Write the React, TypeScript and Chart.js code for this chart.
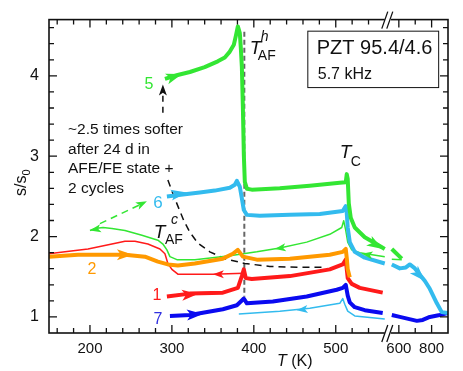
import React, { useEffect, useRef } from 'react';
import { Chart, registerables } from 'chart.js';

Chart.register(...registerables);

type P = [number, number];

// ---------- data: [T (K), s/s0] ----------
// below the axis break (T <= 560 K)
const curve5Heat: P[] = [[291.5,3.963],[307,4.011],[322,4.048],[340,4.108],[356,4.181],[364.6,4.229],[370.7,4.302],[375.6,4.387],[378,4.495],[380.5,4.616],[382.9,4.532],[384.1,4.35],[385.4,4.108],[386.6,3.624],[387.8,3.019],[389,2.681],[391.5,2.596],[397.5,2.584],[431.7,2.6],[468.3,2.632],[504.9,2.669],[512.2,2.675],[513.4,2.777],[514.6,2.717],[515.9,2.415],[518.3,2.234],[523.2,2.113],[535.4,1.992],[547.6,1.919],[559.8,1.846]];
const curve5Cool: P[] = [[559.8,1.75],[529.3,1.798],[519.5,1.834],[514.6,1.931],[512.2,2.076],[509.7,2.197],[507.3,2.113],[492.7,2.028],[464.6,1.931],[431.7,1.858],[403.7,1.81],[370.7,1.762],[328,1.713],[306.1,1.713],[297.6,1.75],[293.9,1.834],[289,1.907],[282.9,1.955],[263.4,2.016],[242.7,2.076],[226.8,2.101],[215.9,2.113],[206.1,2.101],[200,2.076]];
const curve6Heat: P[] = [[293.9,2.5],[313.4,2.524],[334.1,2.548],[352.4,2.572],[370.7,2.608],[376.8,2.645],[379.3,2.693],[382.9,2.62],[385.4,2.475],[387.8,2.33],[391.5,2.27],[407.3,2.258],[443.9,2.27],[480.5,2.282],[508.5,2.318],[512.2,2.379],[513.4,2.294],[514.6,2.113],[517.1,1.931],[523.2,1.81],[535.4,1.737],[559.8,1.665]];
const curve6Cool: P[] = [[559.8,0.975],[523.2,1.012],[514.6,1.072],[511,1.157],[508.5,1.229],[504.9,1.169],[468.3,1.108],[431.7,1.072],[381.7,1.036]];
const curve7Heat: P[] = [[297.6,1.012],[322,1.024],[362.2,1.096],[379.3,1.145],[385.4,1.205],[387.8,1.229],[391.5,1.169],[423.2,1.193],[464.6,1.254],[501.2,1.338],[508.5,1.362],[512.2,1.399],[514.6,1.266],[517.1,1.181],[523.2,1.121],[535.4,1.084],[557.3,1.048]];
const curve1Heat: P[] = [[293.9,1.254],[322,1.29],[362.2,1.302],[380.5,1.362],[385.4,1.508],[387.8,1.592],[390.2,1.483],[397.5,1.471],[444,1.508],[492.7,1.592],[508.5,1.653],[512.2,1.713],[514.6,1.483],[519.5,1.411],[529.3,1.362],[557.3,1.302]];
const curve1Cool: P[] = [[387.8,1.544],[350,1.532],[328,1.532],[307.3,1.532],[300,1.592],[295.1,1.665],[291.5,1.786],[285.4,1.846],[270.7,1.907],[254.9,1.943],[242.7,1.943],[226.8,1.907],[197.6,1.846],[169.5,1.81],[150,1.786]];
const curve2Heat: P[] = [[150,1.75],[185.4,1.774],[242.7,1.774],[267.1,1.75],[282.9,1.689],[295.1,1.653],[307.3,1.641],[328,1.665],[362.2,1.725],[374.4,1.786],[380.5,1.834],[386.6,1.75],[403.7,1.713],[444,1.725],[492.7,1.774],[508.5,1.81],[512.2,1.846],[513.4,1.737],[514.6,1.592],[517.1,1.495]];
// above the axis break
const curve5HeatHigh: P[] = [[557,1.846],[618,1.725]];
const curve5CoolHigh: P[] = [[618,1.713],[557,1.719]];
const curve6HeatHigh: P[] = [[557,1.653],[606,1.604],[643,1.616],[667,1.653],[698,1.604],[759,1.447],[789,1.35],[832,1.169],[862,1.06],[899,1.048]];
const curve7HeatHigh: P[] = [[557,1.024],[606,1.0],[710,0.951],[746,0.963],[789,1.0],[850,1.024],[899,1.048]];
// guides
const tafCoolLine: P[] = [[295.1,2.705],[301.2,2.536],[307.3,2.379],[314.6,2.197],[322,2.052],[331.7,1.919],[346.3,1.81],[364.6,1.725],[389,1.665],[419.5,1.629],[456.1,1.617],[486.6,1.617]];
const tafHeatLine: P[] = [[388.4,4.55],[388.4,1.25]];
const softerArrow: P[] = [[289,3.54],[289,3.85]];
const greenDashArrow: P[] = [[212.2,2.161],[266,2.42]];

// arrowheads: curve key, tail, tip, high-T segment?
const ARROWS: { k: string; from: P; to: P; hi?: boolean }[] = [
  { k: 'g', from: [297.6,3.975], to: [312.2,4.023] },
  { k: 'c', from: [300,2.518], to: [318.3,2.548] },
  { k: 'o', from: [231.7,1.774], to: [252.4,1.774] },
  { k: 'r', from: [313.4,1.27], to: [331.7,1.284] },
  { k: 'b', from: [318.3,1.024], to: [337.8,1.036] },
  { k: 'rt', from: [364.6,1.532], to: [350,1.532] },
  { k: 'gt', from: [441.5,1.871], to: [425.6,1.846] },
  { k: 'ct', from: [468.3,1.102], to: [452.4,1.084] },
  { k: 'g', from: [539,1.955], to: [557.3,1.846] },
  { k: 'gt', from: [547.6,1.762], to: [531.7,1.786] },
  { k: 'c', from: [685,1.604], to: [759,1.447], hi: true },
  { k: 'gt', from: [212.2,2.101], to: [200,2.076] },
  { k: 'gt', from: [257.3,2.379], to: [269.5,2.439] },
  { k: 'kt', from: [289,3.745], to: [289,3.891] },
];

const X_MAJOR_LOW = [200, 300, 400, 500];
const X_MINOR_LOW = [160, 180, 220, 240, 260, 280, 320, 340, 360, 380, 420, 440, 460, 480, 520, 540];
const X_MAJOR_HIGH = [600, 800];
const X_MINOR_HIGH = [700];
const Y_MAJOR = [1, 2, 3, 4];
const Y_MINOR = [1.2, 1.4, 1.6, 1.8, 2.2, 2.4, 2.6, 2.8, 3.2, 3.4, 3.6, 3.8, 4.2, 4.4, 4.6];

// axis break mapping
const lowX = (T: number) => T;
const highX = (T: number) => 577 + (T - 600) * 0.2;
const BREAK_U = 563.5;

const FONT = '"Liberation Sans", Arial, Helvetica, sans-serif';
const COL: Record<string, string> = {
  g: '#33e633', c: '#33bbee', o: '#ff9900', r: '#ff1a1a', b: '#0a0af0', k: '#111111',
};

function ds(pts: P[], hi: boolean, color: string, width: number, order: number, dash: number[] = []) {
  return {
    data: pts.map(([T, s]) => ({ x: hi ? highX(T) : lowX(T), y: s })),
    borderColor: color,
    backgroundColor: color,
    borderWidth: width,
    borderDash: dash,
    pointRadius: 0,
    tension: 0,
    fill: false,
    order,
    borderCapStyle: 'butt' as const,
    borderJoinStyle: 'round' as const,
  };
}

const decor = {
  id: 'decor',
  afterDatasetsDraw(chart: any) {
    const { ctx, scales } = chart;
    const x = scales.x, y = scales.y;
    ctx.save();
    for (const a of ARROWS) {
      const m = a.hi ? highX : lowX;
      const x1 = x.getPixelForValue(m(a.from[0])), y1 = y.getPixelForValue(a.from[1]);
      const x2 = x.getPixelForValue(m(a.to[0])), y2 = y.getPixelForValue(a.to[1]);
      const ang = Math.atan2(y2 - y1, x2 - x1);
      const thin = a.k.length > 1;
      const L = thin ? 11 : 16, W = thin ? 4 : 5.5;
      ctx.fillStyle = COL[a.k[0]];
      ctx.beginPath();
      ctx.moveTo(x2, y2);
      ctx.lineTo(x2 - L * Math.cos(ang) + W * Math.sin(ang), y2 - L * Math.sin(ang) - W * Math.cos(ang));
      ctx.lineTo(x2 - 0.75 * L * Math.cos(ang), y2 - 0.75 * L * Math.sin(ang));
      ctx.lineTo(x2 - L * Math.cos(ang) - W * Math.sin(ang), y2 - L * Math.sin(ang) + W * Math.cos(ang));
      ctx.closePath();
      ctx.fill();
    }
    ctx.restore();
  },
  afterDraw(chart: any) {
    const { ctx, chartArea: a, scales } = chart;
    const x = scales.x, y = scales.y;
    const X = (u: number) => x.getPixelForValue(u);
    const Y = (v: number) => y.getPixelForValue(v);
    ctx.save();
    ctx.strokeStyle = '#111';
    ctx.lineWidth = 1.6;
    ctx.strokeRect(a.left, a.top, a.right - a.left, a.bottom - a.top);
    ctx.lineWidth = 1.3;
    const vt = (px: number, len: number) => {
      ctx.beginPath();
      ctx.moveTo(px, a.bottom); ctx.lineTo(px, a.bottom - len);
      ctx.moveTo(px, a.top); ctx.lineTo(px, a.top + len);
      ctx.stroke();
    };
    const ht = (py: number, len: number) => {
      ctx.beginPath();
      ctx.moveTo(a.left, py); ctx.lineTo(a.left + len, py);
      ctx.moveTo(a.right, py); ctx.lineTo(a.right - len, py);
      ctx.stroke();
    };
    X_MAJOR_LOW.forEach((t) => vt(X(lowX(t)), 8));
    X_MINOR_LOW.forEach((t) => vt(X(lowX(t)), 5));
    X_MAJOR_HIGH.forEach((t) => vt(X(highX(t)), 8));
    X_MINOR_HIGH.forEach((t) => vt(X(highX(t)), 5));
    Y_MAJOR.forEach((v) => ht(Y(v), 8));
    Y_MINOR.forEach((v) => ht(Y(v), 5));

    // axis break marks
    const bx = X(BREAK_U);
    for (const yy of [a.bottom, a.top]) {
      ctx.fillStyle = '#fff';
      ctx.fillRect(bx - 3, yy - 2, 6, 4);
      ctx.beginPath();
      ctx.lineWidth = 1.3;
      ctx.moveTo(bx - 6, yy + 9); ctx.lineTo(bx, yy - 8);
      ctx.moveTo(bx - 1, yy + 9); ctx.lineTo(bx + 5, yy - 8);
      ctx.stroke();
    }

    const txt = (s: string, px: number, py: number, font: string, color: string, align: CanvasTextAlign = 'left') => {
      ctx.font = font; ctx.fillStyle = color; ctx.textAlign = align; ctx.textBaseline = 'alphabetic';
      ctx.fillText(s, px, py);
    };

    // curve numbers
    txt('5', X(271.9), Y(3.842), `16px ${FONT}`, COL.g, 'center');
    txt('6', X(282.9), Y(2.354), `17px ${FONT}`, COL.c, 'center');
    txt('2', X(202.4), Y(1.532), `16px ${FONT}`, COL.o, 'center');
    txt('1', X(281.7), Y(1.205), `16px ${FONT}`, COL.r, 'center');
    txt('7', X(282.9), Y(0.915), `16px ${FONT}`, '#3030e0', 'center');

    // note
    const note = ['~2.5 times softer', 'after 24 d in', 'AFE/FE state +', '2 cycles'];
    note.forEach((l, i) => txt(l, X(173.2), Y(3.274) + i * 19.5, `15.5px ${FONT}`, '#111'));

    // info box
    ctx.lineWidth = 1;
    ctx.strokeStyle = '#111';
    const bl = X(465.9), br = X(625.6), bt = Y(4.556), bb = Y(3.854);
    ctx.fillStyle = '#fff';
    ctx.fillRect(bl, bt, br - bl, bb - bt);
    ctx.strokeRect(bl, bt, br - bl, bb - bt);
    txt('PZT 95.4/4.6', X(476.8), Y(4.266), `20px ${FONT}`, '#111');
    txt('5.7 kHz', X(478), Y(3.963), `16px ${FONT}`, '#111');

    // transition labels
    txt('T', X(504.9), Y(2.983), `italic 19px ${FONT}`, '#111');
    txt('C', X(518.3), Y(2.874), `14px ${FONT}`, '#111');
    txt('T', X(395.1), Y(4.278), `italic 19px ${FONT}`, '#111');
    txt('h', X(408.5), Y(4.435), `italic 14px ${FONT}`, '#111');
    txt('AF', X(404.9), Y(4.193), `14px ${FONT}`, '#111');
    txt('T', X(278), Y(1.979), `italic 19px ${FONT}`, '#111');
    txt('c', X(298.8), Y(2.161), `italic 14px ${FONT}`, '#111');
    txt('AF', X(291.5), Y(1.907), `14px ${FONT}`, '#111');

    // axis titles
    ctx.font = `italic 16px ${FONT}`;
    const tw = ctx.measureText('T ').width;
    txt('T', 277, 366, `italic 16px ${FONT}`, '#111');
    txt('(K)', 277 + tw, 366, `16px ${FONT}`, '#111');

    ctx.save();
    ctx.translate(26, 196);
    ctx.rotate(-Math.PI / 2);
    txt('s/s', 0, 0, `16px ${FONT}`, '#111');
    ctx.font = `16px ${FONT}`;
    const sw = ctx.measureText('s/s').width;
    txt('0', sw, 4, `11px ${FONT}`, '#111');
    ctx.restore();

    ctx.restore();
  },
};

export default function App() {
  const ref = useRef<HTMLCanvasElement>(null);
  useEffect(() => {
    if (!ref.current) return;
    const thick = 4, thin = 1.5;
    const chart = new Chart(ref.current, {
      type: 'line',
      data: {
        datasets: [
          ds(curve5Heat, false, COL.g, thick, 1),
          ds(curve5HeatHigh, true, COL.g, thick, 1),
          ds(curve6Heat, false, COL.c, thick, 2),
          ds(curve6HeatHigh, true, COL.c, thick, 2),
          ds(curve2Heat, false, COL.o, thick, 3),
          ds(curve1Heat, false, COL.r, thick, 4),
          ds(curve7Heat, false, COL.b, thick, 5),
          ds(curve7HeatHigh, true, COL.b, thick, 5),
          ds(curve5Cool, false, COL.g, thin, 6),
          ds(curve5CoolHigh, true, COL.g, thin, 6),
          ds(curve1Cool, false, COL.r, thin, 7),
          ds(curve6Cool, false, COL.c, thin, 7),
          ds(tafCoolLine, false, '#111', 1.5, 8, [7, 5]),
          ds(tafHeatLine, false, '#666', 2, 9, [5, 3]),
          ds(softerArrow, false, '#111', 1.5, 8, [6, 5]),
          ds(greenDashArrow, false, COL.g, 1.5, 8, [7, 5]),
        ] as any,
      },
      options: {
        responsive: false,
        devicePixelRatio: 1,
        animation: false,
        events: [],
        layout: { padding: { left: 0, right: 15, top: 11, bottom: 0 } },
        plugins: { legend: { display: false }, tooltip: { enabled: false } },
        scales: {
          x: {
            type: 'linear',
            min: 150,
            max: 637,
            grid: { display: false, drawTicks: false },
            border: { display: false },
            afterBuildTicks: (s: any) => {
              s.ticks = [
                ...X_MAJOR_LOW.map((t) => ({ value: lowX(t), label: String(t) })),
                ...X_MAJOR_HIGH.map((t) => ({ value: highX(t), label: String(t) })),
              ];
            },
            afterFit: (s: any) => { s.height = 38; },
            ticks: {
              autoSkip: false,
              maxRotation: 0,
              padding: 7,
              color: '#111',
              font: { family: FONT, size: 15 },
              callback: (v: any) => {
                const n = Number(v);
                if (n > 570) return String(Math.round(600 + (n - 577) / 0.2));
                return String(Math.round(n));
              },
            },
          },
          y: {
            type: 'linear',
            min: 0.8,
            max: 4.7,
            grid: { display: false, drawTicks: false },
            border: { display: false },
            afterBuildTicks: (s: any) => { s.ticks = Y_MAJOR.map((v) => ({ value: v })); },
            afterFit: (s: any) => { s.width = 49; },
            ticks: {
              padding: 10,
              color: '#111',
              font: { family: FONT, size: 16 },
              callback: (v: any) => String(v),
            },
          },
        },
      } as any,
      plugins: [decor],
    });
    return () => chart.destroy();
  }, []);
  return (
    <canvas
      ref={ref}
      width={463}
      height={371}
      style={{ position: 'fixed', left: 0, top: 0, width: 463, height: 371 }}
    />
  );
}
